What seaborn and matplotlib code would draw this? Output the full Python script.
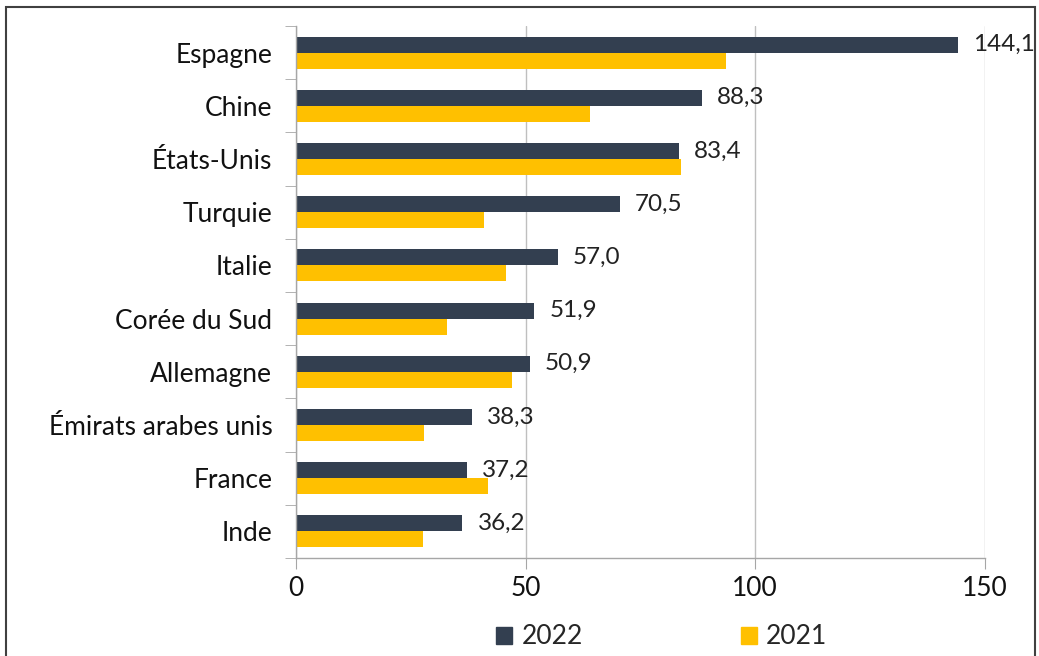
import numpy as np
import pandas as pd
import matplotlib.pyplot as plt
import matplotlib.patches as mpatches
import seaborn as sns

pays = ['Espagne', 'Chine', 'États-Unis', 'Turquie', 'Italie', 'Corée du Sud',
        'Allemagne', 'Émirats arabes unis', 'France', 'Inde']
val_2022 = [144.1, 88.3, 83.4, 70.5, 57.0, 51.9, 50.9, 38.3, 37.2, 36.2]
val_2021 = [93.6, 64.0, 83.8, 40.9, 45.7, 32.9, 47.0, 27.9, 41.8, 27.6]
annees = ['2022', '2021']
couleurs = ['#333F50', '#FFC000']

df = pd.DataFrame({'Pays': pays * 2,
                   'Valeur': val_2022 + val_2021,
                   'Année': ['2022'] * len(pays) + ['2021'] * len(pays)})

sns.set_style('white')
plt.rcParams['font.family'] = ['Lato', 'DejaVu Sans']

fig = plt.figure(figsize=(10.39, 6.56), dpi=100)
ax = fig.add_axes([0.2849, 0.1494, 0.663, 0.811])

sns.barplot(data=df, y='Pays', x='Valeur', hue='Année', hue_order=annees,
            palette=couleurs, orient='h', width=0.6, gap=0, saturation=1,
            edgecolor='none', ax=ax, legend=True)

# etiquettes sur les barres 2022
lab = [f'{v:.1f}'.replace('.', ',') for v in val_2022]
ax.bar_label(ax.containers[0], labels=lab, padding=11, fontsize=17.5, color='#222222')

ax.set_xlim(0, 150)
ax.set_ylim(len(pays) - 0.5, -0.5)
ax.set_xticks([0, 50, 100, 150])
ax.xaxis.grid(True, color='#BFBFBF', linewidth=1)
ax.set_axisbelow(True)
ax.set_xlabel('')
ax.set_ylabel('')

# ticks aux limites des categories
ax.set_yticks(np.arange(len(pays)))
ax.set_yticklabels(pays)
ax.set_yticks(np.arange(-0.5, len(pays), 1), minor=True)
ax.tick_params(axis='y', which='major', length=0, pad=17, labelsize=19, labelcolor='#111111')
ax.tick_params(axis='y', which='minor', length=8, color='#A6A6A6', direction='out', left=True)
ax.tick_params(axis='x', length=8, color='#A6A6A6', direction='out', bottom=True,
               labelsize=19, labelcolor='#111111', pad=5)

for s in ['top', 'right']:
    ax.spines[s].set_visible(False)
for s in ['left', 'bottom']:
    ax.spines[s].set_color('#A6A6A6')
    ax.spines[s].set_linewidth(1)

ax.get_legend().remove()
handles = [mpatches.Patch(color=c, label=a) for c, a in zip(couleurs, annees)]
fig.legend(handles=handles, loc='center', bbox_to_anchor=(0.637, 0.029), ncol=2,
           frameon=False, fontsize=19, handlelength=0.6, handleheight=0.6,
           handletextpad=0.35, columnspacing=6.0)

# cadre autour de la figure
fig.patches.append(mpatches.Rectangle((0.006, -0.01), 0.99, 1.0, transform=fig.transFigure,
                                      fill=False, edgecolor='#404040', linewidth=1.5))

fig.savefig('out.png', dpi=100)
